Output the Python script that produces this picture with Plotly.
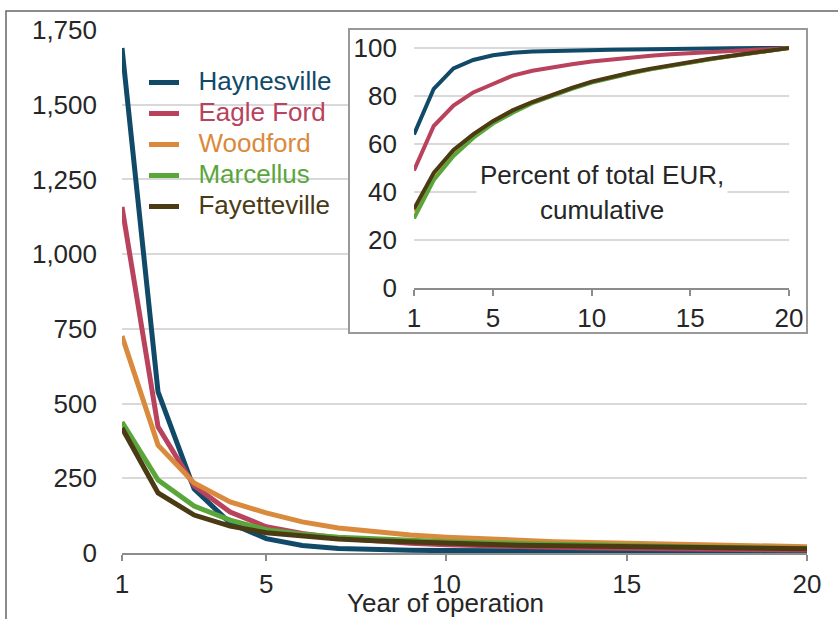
import plotly.graph_objects as go

years = list(range(1, 21))

series_names = ["Haynesville", "Eagle Ford", "Woodford", "Marcellus", "Fayetteville"]
series_colors = ["#114a68", "#b9425c", "#d98a3d", "#5aa63b", "#4b3b14"]

# Annual production (main chart)
haynesville = [1690, 539, 215, 100, 48, 25, 15, 11, 9, 8, 7, 6, 6, 5, 5, 5, 4, 4, 4, 4]
eagle_ford = [1158, 422, 225, 137, 88, 65, 50, 40, 33, 28, 24, 21, 19, 17, 15, 14, 13, 12, 11, 10]
woodford = [726, 361, 234, 171, 134, 104, 84, 70, 60, 53, 47, 42, 38, 35, 32, 29, 27, 25, 23, 21]
marcellus = [438, 244, 157, 110, 78, 63, 53, 47, 42, 38, 34, 31, 28, 26, 24, 22, 20, 18, 17, 15]
fayetteville = [418, 201, 127, 90, 68, 56, 47, 41, 36, 32, 29, 26, 24, 22, 20, 19, 17, 16, 15, 14]

# Percent of total EUR, cumulative (inset)
haynesville_cum = [64, 83, 91.5, 95, 97, 98, 98.5, 98.8, 99, 99.2, 99.3, 99.4, 99.6, 99.7, 99.8, 99.8, 99.9, 99.9, 100, 100]
eagle_ford_cum = [49, 67.5, 76, 81.5, 85, 88.5, 90.5, 92, 93.2, 94.4, 95.3, 96.1, 96.8, 97.4, 97.9, 98.4, 98.9, 99.3, 99.7, 100]
woodford_cum = [32, 47.5, 57, 64, 69.5, 74, 77.5, 80.5, 83.3, 85.8, 87.8, 89.6, 91.2, 92.7, 94, 95.3, 96.6, 97.8, 98.9, 100]
marcellus_cum = [29, 45, 55, 62.5, 68.5, 73, 77, 80.2, 83, 85.6, 87.6, 89.5, 91.1, 92.6, 94, 95.3, 96.6, 97.8, 98.9, 100]
fayetteville_cum = [33, 48, 57.5, 64, 69.5, 74, 77.5, 80.5, 83.4, 86, 88, 89.8, 91.4, 92.9, 94.2, 95.5, 96.7, 97.9, 99, 100]

main_values = [haynesville, eagle_ford, woodford, marcellus, fayetteville]
cum_values = [haynesville_cum, eagle_ford_cum, woodford_cum, marcellus_cum, fayetteville_cum]

main_yticks = [0, 250, 500, 750, 1000, 1250, 1500, 1750]
x_ticks = [1, 5, 10, 15, 20]
inset_yticks = [0, 20, 40, 60, 80, 100]

FONT = "Liberation Sans, Arial, sans-serif"
FS = 26
TXT = "#262626"
GRID = "#d9d9d9"
AX = "#8c8c8c"

fig = go.Figure()

for name, color, vals in zip(series_names, series_colors, main_values):
    fig.add_trace(go.Scatter(
        x=years, y=vals, mode="lines",
        name=f"<span style='color:{color};font-size:{FS}px'>&nbsp;&nbsp;{name}</span>",
        legendgroup=name,
        line=dict(color=color, width=5),
        xaxis="x", yaxis="y",
    ))

# empty subplot used as the inset frame
fig.add_trace(go.Scatter(x=[None], y=[None], xaxis="x2", yaxis="y2",
                         showlegend=False, hoverinfo="skip"))

for name, color, vals in zip(series_names, series_colors, cum_values):
    fig.add_trace(go.Scatter(
        x=years, y=vals, mode="lines", showlegend=False,
        line=dict(color=color, width=4),
        xaxis="x3", yaxis="y3",
    ))

W, H = 838, 619
L, R, T, B = 122, 31, 30, 66
PW, PH = W - L - R, H - T - B


def px_x(p):
    return (p - L) / PW


def px_y(p):
    return (H - B - p) / PH


fig.update_layout(
    width=W, height=H,
    margin=dict(l=L, r=R, t=T, b=B),
    paper_bgcolor="white", plot_bgcolor="white",
    font=dict(family=FONT, size=FS, color=TXT),
    showlegend=True,
    legend=dict(x=px_x(144), y=px_y(63), xanchor="left", yanchor="top",
                bgcolor="rgba(0,0,0,0)", font=dict(size=20, family=FONT),
                tracegroupgap=2, itemwidth=30),
    xaxis=dict(range=[1, 20], tickvals=x_ticks, showgrid=False, zeroline=False,
               showline=True, linecolor=AX, linewidth=2, ticks="outside",
               ticklen=6, tickwidth=2, tickcolor=AX, ticklabelstandoff=1,
               tickfont=dict(size=FS, color=TXT)),
    yaxis=dict(range=[0, 1750], tickvals=main_yticks, tickformat=",",
               showgrid=True, gridcolor=GRID, gridwidth=2, zeroline=False,
               showline=False, ticks="", ticklabelstandoff=24,
               tickfont=dict(size=FS, color=TXT)),
    xaxis2=dict(domain=[px_x(350), px_x(806)], anchor="y2", range=[0, 1],
                showgrid=False, zeroline=False, showticklabels=False,
                showline=True, mirror=True, linecolor="#999999", linewidth=1.5),
    yaxis2=dict(domain=[px_y(332), px_y(30)], anchor="x2", range=[0, 1],
                showgrid=False, zeroline=False, showticklabels=False,
                showline=True, mirror=True, linecolor="#999999", linewidth=1.5),
    xaxis3=dict(domain=[px_x(414), px_x(789)], anchor="y3", range=[1, 20],
                tickvals=x_ticks, showgrid=False, zeroline=False,
                showline=True, linecolor=AX, linewidth=2, ticks="outside",
                ticklen=6, tickwidth=2, tickcolor=AX, ticklabelstandoff=0,
                tickfont=dict(size=FS, color=TXT)),
    yaxis3=dict(domain=[px_y(288), px_y(288 - 102 * 2.4)], anchor="x3",
                range=[0, 102], tickvals=inset_yticks, showgrid=True,
                gridcolor=GRID, gridwidth=2, zeroline=False, showline=False,
                ticks="", ticklabelstandoff=16,
                tickfont=dict(size=FS, color=TXT)),
)

fig.add_annotation(x=px_x(602), y=px_y(175), xref="paper", yref="paper",
                   text="Percent of total EUR,", showarrow=False,
                   font=dict(size=FS, color=TXT), bgcolor="white", borderpad=3,
                   xanchor="center", yanchor="middle")
fig.add_annotation(x=px_x(602), y=px_y(210), xref="paper", yref="paper",
                   text="cumulative", showarrow=False,
                   font=dict(size=FS, color=TXT),
                   xanchor="center", yanchor="middle")
fig.add_annotation(x=px_x(445), y=px_y(619), xref="paper", yref="paper",
                   text="Year of operation", showarrow=False,
                   font=dict(size=FS, color=TXT), borderpad=0,
                   xanchor="center", yanchor="bottom")

fig.add_shape(type="rect", xref="paper", yref="paper",
              x0=px_x(6), x1=px_x(850), y0=px_y(630), y1=px_y(11),
              line=dict(color="#666666", width=1.5), fillcolor="rgba(0,0,0,0)",
              layer="above")

fig.write_html("out.html", config={"displayModeBar": False},
               post_script="document.body.style.margin='0';")
